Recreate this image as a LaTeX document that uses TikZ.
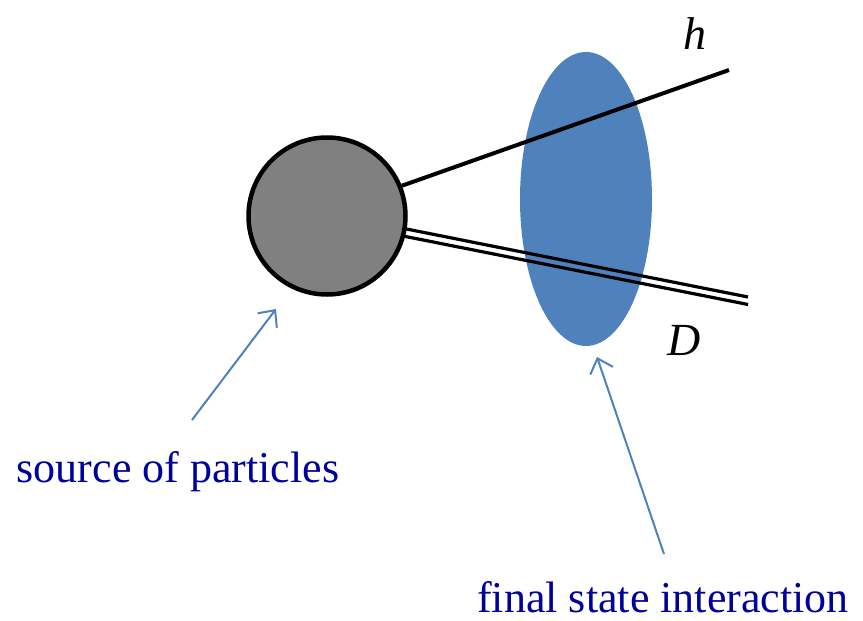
\documentclass[tikz,border=0pt]{standalone}
\usepackage{fontspec}
\setmainfont{Liberation Serif}
\usetikzlibrary{arrows.meta,calc,shapes.geometric}
\definecolor{fsiblue}{HTML}{4F81BD}
\definecolor{labelblue}{HTML}{00009A}
\begin{document}
\begin{tikzpicture}[x=1pt,y=-1pt,
  particle/.style={line width=4pt},
  pointer/.style={draw=fsiblue,line width=2pt,-{Straight Barb[length=13pt,width=24pt,line width=2pt]}},
  lbl/.style={text=labelblue,font=\fontsize{44}{48}\selectfont,inner sep=0pt,anchor=base,text depth=0pt},
  mlbl/.style={font=\fontsize{46}{50}\selectfont\itshape,inner sep=0pt}]
\useasboundingbox (0,0) rectangle (863,621);
% FSI blob
\node[ellipse,draw=none,fill=fsiblue,minimum width=132pt,minimum height=294pt,inner sep=0pt] (fsi) at (586,199) {};
% source
\node[circle,draw=black,fill=gray,line width=4.5pt,minimum size=157pt,inner sep=0pt] (src) at (327,216) {};
% h line
\coordinate (hend) at (729,70);
\draw[particle] (src.{22}) -- (hend);
% D double line
\coordinate (dendA) at (748,297);
\coordinate (dendB) at (748,304.5);
\coordinate (dstartA) at (404,228.5);
\coordinate (dstartB) at (403,236);
\draw[line width=3.2pt] (dstartA) -- (dendA);
\draw[line width=3.2pt] (dstartB) -- (dendB);
% particle labels
\node[mlbl] (h) at (695,34) {h};
\node[mlbl] (D) at (684,340) {D};
% text labels
\node[lbl] (srclbl) at (178,482) {source of particles};
\node[lbl] (fsilbl) at (663,612) {final state interaction};
% pointers
\coordinate (p1) at (192,420);
\coordinate (q1) at (276,309);
\draw[pointer] (p1) -- (q1);
\coordinate (p2) at (664,554);
\coordinate (q2) at (597,357);
\draw[pointer] (p2) -- (q2);
\end{tikzpicture}
\end{document}
